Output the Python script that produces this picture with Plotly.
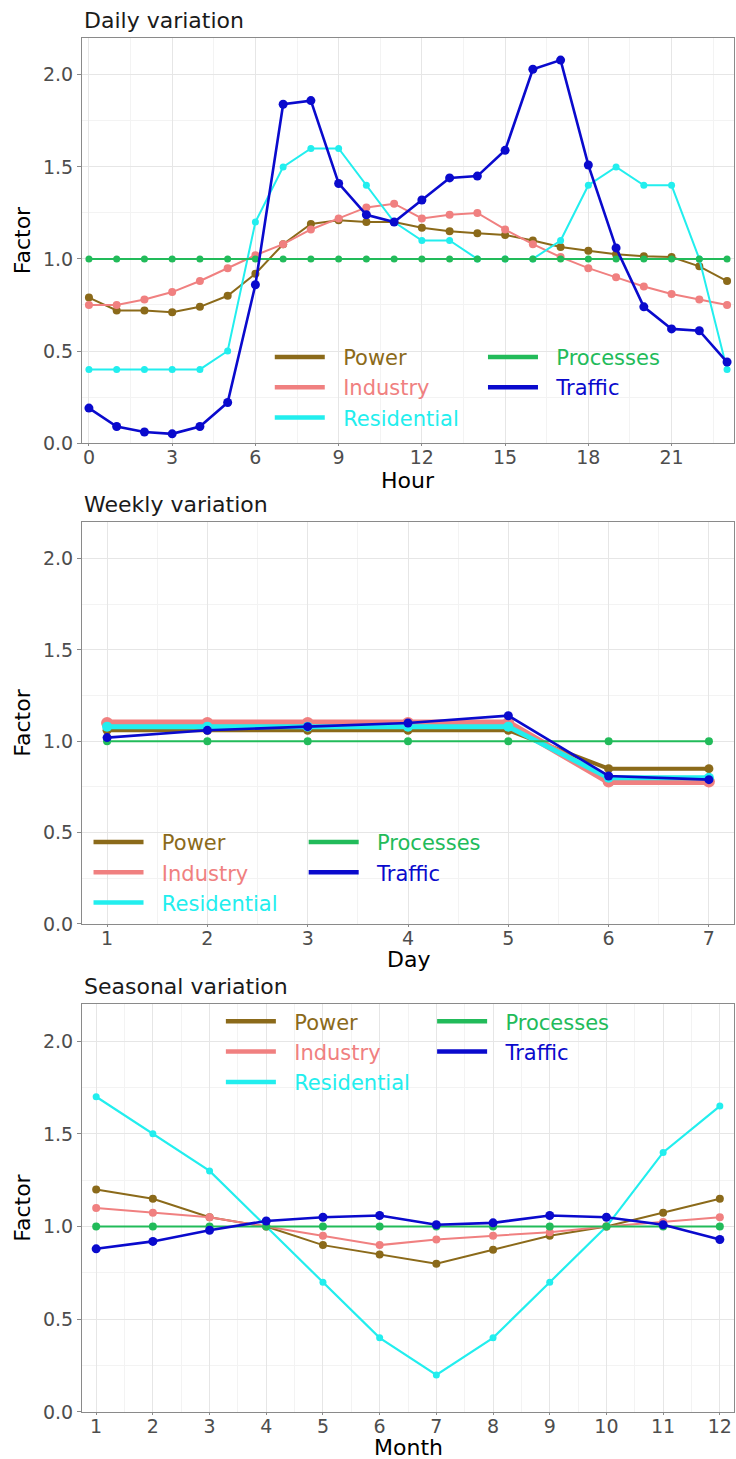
import plotly.graph_objects as go

# ---- data ----------------------------------------------------------------
sectors = ["Power", "Industry", "Residential", "Processes", "Traffic"]

hours = [0, 1, 2, 3, 4, 5, 6, 7, 8, 9, 10, 11, 12, 13, 14, 15, 16, 17, 18, 19, 20, 21, 22, 23]
days = [1, 2, 3, 4, 5, 6, 7]
months = [1, 2, 3, 4, 5, 6, 7, 8, 9, 10, 11, 12]

daily_power = [0.79, 0.72, 0.72, 0.71, 0.74, 0.80, 0.92, 1.08, 1.19, 1.21, 1.20, 1.20,
               1.17, 1.15, 1.14, 1.13, 1.10, 1.065, 1.045, 1.025, 1.015, 1.01, 0.96, 0.88]
daily_industry = [0.75, 0.75, 0.78, 0.82, 0.88, 0.95, 1.02, 1.08, 1.16, 1.22, 1.28, 1.30,
                  1.22, 1.24, 1.25, 1.16, 1.08, 1.01, 0.95, 0.90, 0.85, 0.81, 0.78, 0.75]
daily_residential = [0.40, 0.40, 0.40, 0.40, 0.40, 0.50, 1.20, 1.50, 1.60, 1.60, 1.40, 1.20,
                     1.10, 1.10, 1.00, 1.00, 1.00, 1.10, 1.40, 1.50, 1.40, 1.40, 1.00, 0.40]
daily_processes = [1.0, 1.0, 1.0, 1.0, 1.0, 1.0, 1.0, 1.0, 1.0, 1.0, 1.0, 1.0,
                   1.0, 1.0, 1.0, 1.0, 1.0, 1.0, 1.0, 1.0, 1.0, 1.0, 1.0, 1.0]
daily_traffic = [0.19, 0.09, 0.06, 0.05, 0.09, 0.22, 0.86, 1.84, 1.86, 1.41, 1.24, 1.20,
                 1.32, 1.44, 1.45, 1.59, 2.03, 2.08, 1.51, 1.06, 0.74, 0.62, 0.61, 0.44]

weekly_power = [1.06, 1.06, 1.06, 1.06, 1.06, 0.85, 0.85]
weekly_industry = [1.10, 1.10, 1.10, 1.10, 1.10, 0.78, 0.78]
weekly_residential = [1.08, 1.08, 1.08, 1.08, 1.08, 0.80, 0.80]
weekly_processes = [1.0, 1.0, 1.0, 1.0, 1.0, 1.0, 1.0]
weekly_traffic = [1.02, 1.06, 1.08, 1.10, 1.14, 0.81, 0.79]

seasonal_power = [1.20, 1.15, 1.05, 1.00, 0.90, 0.85, 0.80, 0.875, 0.95, 1.00, 1.075, 1.15]
seasonal_industry = [1.10, 1.075, 1.05, 1.00, 0.95, 0.90, 0.93, 0.95, 0.97, 1.00, 1.025, 1.05]
seasonal_residential = [1.70, 1.50, 1.30, 1.00, 0.70, 0.40, 0.20, 0.40, 0.70, 1.00, 1.40, 1.65]
seasonal_processes = [1.0, 1.0, 1.0, 1.0, 1.0, 1.0, 1.0, 1.0, 1.0, 1.0, 1.0, 1.0]
seasonal_traffic = [0.88, 0.92, 0.98, 1.03, 1.05, 1.06, 1.01, 1.02, 1.06, 1.05, 1.01, 0.93]

# ---- style -----------------------------------------------------------------
colors = {
    "Power": "#8B6A1A",
    "Industry": "#F08080",
    "Residential": "#22EEEE",
    "Processes": "#22BB5A",
    "Traffic": "#0A0ACD",
}
FONT = "DejaVu Sans"
GRID_MAJOR = "#E6E6E6"
GRID_MINOR = "#F3F3F3"
BORDER = "#8A8A8A"

panels = [
    {
        "title": "Daily variation", "xlabel": "Hour", "x": hours,
        "series": [daily_power, daily_industry, daily_residential, daily_processes, daily_traffic],
        "widths": [2, 2, 2, 2, 2.6], "sizes": [8, 8, 7, 7, 9],
        "xrange": [-0.25, 23.25], "dtick": 3, "minor": 1.5,
        "domain": [0.7052, 1.0], "xlabel_y": 0.6783,
        "legends": [(0.288, 0.7825), (0.615, 0.7825)],
    },
    {
        "title": "Weekly variation", "xlabel": "Day", "x": days,
        "series": [weekly_power, weekly_industry, weekly_residential, weekly_processes, weekly_traffic],
        "widths": [4, 7, 5, 2, 2.6], "sizes": [9, 12, 10, 8, 9],
        "xrange": [0.75, 7.25], "dtick": 1, "minor": 0.5,
        "domain": [0.3552, 0.6477], "xlabel_y": 0.3290,
        "legends": [(0.010, 0.4295), (0.340, 0.4295)],
    },
    {
        "title": "Seasonal variation", "xlabel": "Month", "x": months,
        "series": [seasonal_power, seasonal_industry, seasonal_residential, seasonal_processes, seasonal_traffic],
        "widths": [2, 2, 2.2, 2, 2.6], "sizes": [8, 8, 7, 8, 9],
        "xrange": [0.75, 12.25], "dtick": 1, "minor": 0.5,
        "domain": [0.0, 0.2969], "xlabel_y": -0.0255,
        "legends": [(0.213, 0.2990), (0.537, 0.2990)],
    },
]

fig = go.Figure()
layout = {}
annotations = []

for p_idx, p in enumerate(panels):
    n = p_idx + 1
    xa = "x" if n == 1 else f"x{n}"
    ya = "y" if n == 1 else f"y{n}"
    leg_a = "legend" if n == 1 else f"legend{2 * n - 1}"
    leg_b = f"legend{2 * n}"

    for s_idx, name in enumerate(sectors):
        # data line with points
        fig.add_trace(go.Scatter(
            x=p["x"], y=p["series"][s_idx], mode="lines+markers",
            line=dict(color=colors[name], width=p["widths"][s_idx]),
            marker=dict(color=colors[name], size=p["sizes"][s_idx]),
            xaxis=xa, yaxis=ya, showlegend=False, name=name,
        ))
    for s_idx, name in enumerate(sectors):
        # legend key (line only, coloured label)
        fig.add_trace(go.Scatter(
            x=[None], y=[None], mode="lines",
            line=dict(color=colors[name], width=4.5),
            xaxis=xa, yaxis=ya, showlegend=True,
            name=f"<span style='color:{colors[name]}'>&#160;&#160;{name}</span>",
            legend=leg_a if s_idx < 3 else leg_b,
        ))

    xkey = "xaxis" if n == 1 else f"xaxis{n}"
    ykey = "yaxis" if n == 1 else f"yaxis{n}"
    layout[xkey] = dict(
        domain=[0, 1], anchor=ya, range=p["xrange"], tick0=p["x"][0], dtick=p["dtick"],
        showgrid=True, gridcolor=GRID_MAJOR, gridwidth=1,
        minor=dict(dtick=p["minor"], tick0=p["x"][0], showgrid=True, gridcolor=GRID_MINOR, gridwidth=1),
        showline=True, linecolor=BORDER, linewidth=1, mirror=True,
        ticks="outside", ticklen=2, tickcolor=BORDER, ticklabelstandoff=-5,
        tickfont=dict(family=FONT, size=19, color="#4D4D4D"),
        zeroline=False,
    )
    layout[ykey] = dict(
        domain=p["domain"], anchor=xa, range=[0, 2.2], tick0=0, dtick=0.5, tickformat=".1f",
        showgrid=True, gridcolor=GRID_MAJOR, gridwidth=1,
        minor=dict(dtick=0.25, tick0=0, showgrid=True, gridcolor=GRID_MINOR, gridwidth=1),
        showline=True, linecolor=BORDER, linewidth=1, mirror=True,
        ticks="outside", ticklen=4, tickcolor=BORDER,
        tickfont=dict(family=FONT, size=19, color="#4D4D4D"),
        title=dict(text="Factor", font=dict(family=FONT, size=22, color="#000"), standoff=6),
        zeroline=False,
    )
    for leg_name, (lx, ly) in zip([leg_a, leg_b], p["legends"]):
        layout[leg_name] = dict(
            x=lx, y=ly, xanchor="left", yanchor="top", xref="paper", yref="paper",
            orientation="v", bgcolor="rgba(0,0,0,0)", borderwidth=0,
            font=dict(family=FONT, size=21), itemwidth=50, tracegroupgap=0,
        )
    # panel title
    annotations.append(dict(
        text=p["title"], xref="paper", yref="paper", x=0, y=p["domain"][1] + 0.0131,
        xanchor="left", yanchor="middle", showarrow=False,
        font=dict(family=FONT, size=22, color="#1A1A1A"),
    ))
    # x axis title
    annotations.append(dict(
        text=p["xlabel"], xref="paper", yref="paper", x=0.5, y=p["xlabel_y"],
        xanchor="center", yanchor="middle", showarrow=False,
        font=dict(family=FONT, size=22, color="#000"),
    ))

fig.update_layout(
    width=736, height=1459,
    margin=dict(l=82, r=2, t=38, b=47),
    paper_bgcolor="white", plot_bgcolor="white",
    annotations=annotations,
    **layout,
)

fig.write_html("out.html")
